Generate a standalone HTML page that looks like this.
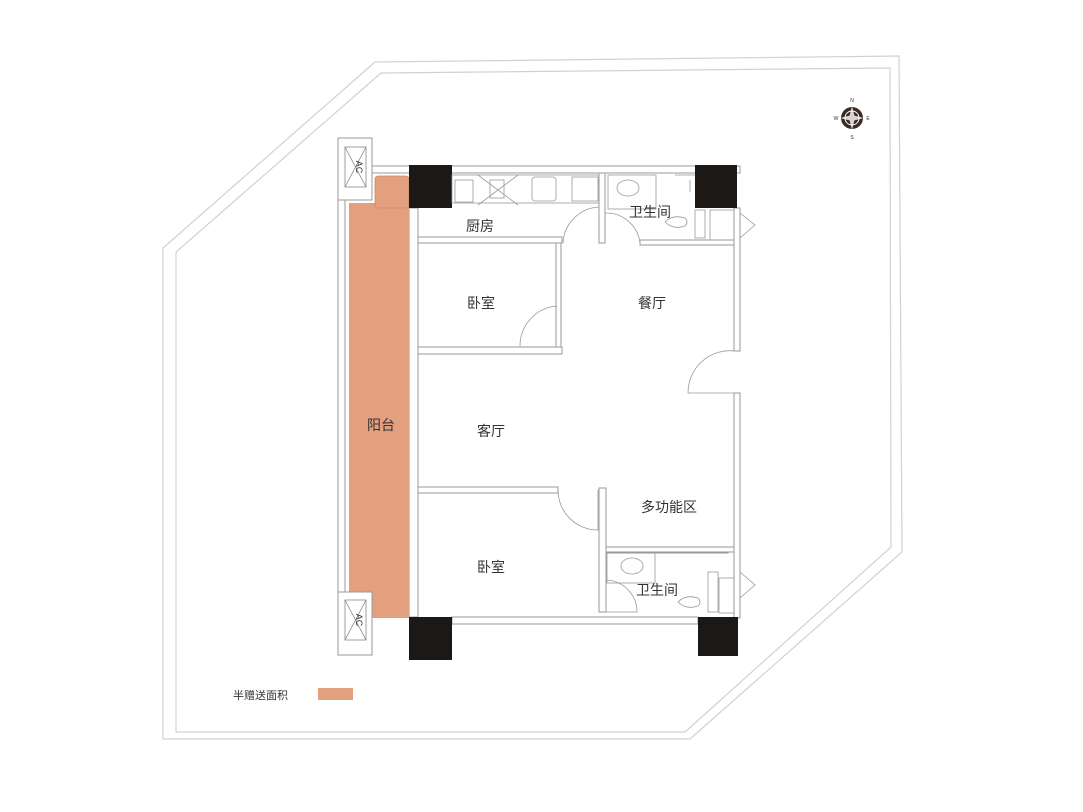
<!DOCTYPE html>
<html><head><meta charset="utf-8"><style>
html,body{margin:0;padding:0;background:#fff;}
svg{display:block;}
text{font-family:"Liberation Sans","Noto Sans CJK SC",sans-serif;fill:#333;}
</style></head><body>
<svg width="1083" height="812" viewBox="0 0 1083 812" xmlns="http://www.w3.org/2000/svg">
<rect width="1083" height="812" fill="#fff"/>
<polygon points="375,62 899,56 902,552 690,739 163,739 163,248" fill="none" stroke="#d8d0c8" stroke-width="1.2"/>
<polygon points="381,73 890,68 891,547 685,732 176,732 176,252" fill="none" stroke="#d8d0c8" stroke-width="1.2"/>

<g fill="#fff" stroke="#9a9a9a" stroke-width="1">
<rect x="372" y="166" width="368" height="7"/>
<rect x="338" y="200" width="7" height="392"/>
<rect x="409" y="208" width="9" height="409"/>
<rect x="734" y="208" width="6" height="143"/>
<rect x="734" y="393" width="6" height="225"/>
<rect x="452" y="617" width="246" height="7"/>
<rect x="418" y="237" width="144" height="6"/>
<rect x="599" y="173" width="6" height="70"/>
<rect x="640" y="240" width="94" height="5"/>
<rect x="556" y="243" width="5" height="105"/>
<rect x="418" y="347" width="144" height="7"/>
<rect x="418" y="487" width="140" height="6"/>
<rect x="599" y="488" width="7" height="124"/>
<rect x="606" y="547" width="128" height="5"/>
<rect x="606" y="552" width="122" height="1"/>
</g>

<rect x="349" y="203" width="60" height="415" fill="#e3a07f"/>
<rect x="375" y="176" width="34" height="32" rx="3" fill="#e3a07f" stroke="#c98a6a" stroke-width="0.8"/>

<g fill="#fff" stroke="#9a9a9a" stroke-width="1">
<rect x="338" y="138" width="34" height="62"/>
<rect x="338" y="592" width="34" height="63"/>
</g>
<g fill="none" stroke="#888" stroke-width="0.8">
<rect x="345" y="147" width="21" height="40"/>
<path d="M345,147 L366,187 M366,147 L345,187"/>
<rect x="345" y="600" width="21" height="40"/>
<path d="M345,600 L366,640 M366,600 L345,640"/>
</g>
<text x="356" y="167" font-size="9" text-anchor="middle" transform="rotate(90 356 167)">AC</text>
<text x="356" y="620" font-size="9" text-anchor="middle" transform="rotate(90 356 620)">AC</text>

<g fill="#1c1816">
<rect x="409" y="165" width="43" height="43"/>
<rect x="695" y="165" width="42" height="43"/>
<rect x="409" y="617" width="43" height="43"/>
<rect x="698" y="617" width="40" height="39"/>
</g>

<g fill="none" stroke="#999" stroke-width="0.8">
<rect x="452" y="175" width="147" height="28"/>
<rect x="455" y="180" width="18" height="22"/>
<path d="M478,175 L518,205 M518,175 L478,205"/>
<rect x="490" y="180" width="14" height="18"/>
<rect x="532" y="177" width="24" height="24" rx="3"/>
<rect x="572" y="177" width="26" height="24"/>
<rect x="608" y="175" width="48" height="34"/>
<ellipse cx="628" cy="188" rx="11" ry="8"/>
<path d="M675,175 L695,175 M690,180 L690,192"/>
<path d="M665,222 q8,-8 20,-4 q4,4 0,8 q-12,4 -20,-4 z"/>
<rect x="695" y="210" width="10" height="28"/>
<rect x="710" y="210" width="24" height="30"/>
<path d="M563,243 A38,38 0 0 1 599,207"/>
<path d="M605,213 A34,34 0 0 1 640,243"/>
<path d="M520,346 A40,40 0 0 1 557,306"/>
<path d="M735,351 A42,42 0 0 0 688,393 L734,393"/>
<path d="M558,490 A40,40 0 0 0 598,530 L598,490"/>
<path d="M606,580 A32,32 0 0 1 637,612 L606,612"/>
<path d="M740,213 L755,225 L740,238"/>
<path d="M740,572 L755,585 L740,598"/>
<rect x="607" y="553" width="48" height="30"/>
<ellipse cx="632" cy="566" rx="11" ry="8"/>
<path d="M678,602 q8,-8 20,-4 q4,4 0,8 q-12,4 -20,-4 z"/>
<rect x="708" y="572" width="10" height="40"/>
<rect x="719" y="578" width="15" height="35"/>
<path d="M418,260 L418,340 M418,370 L418,480 M418,505 L418,600"/>
</g>

<g font-size="14">
<text x="480" y="231" text-anchor="middle">厨房</text>
<text x="650" y="217" text-anchor="middle">卫生间</text>
<text x="481" y="308" text-anchor="middle">卧室</text>
<text x="652" y="308" text-anchor="middle">餐厅</text>
<text x="381" y="430" text-anchor="middle">阳台</text>
<text x="491" y="436" text-anchor="middle">客厅</text>
<text x="669" y="512" text-anchor="middle">多功能区</text>
<text x="491" y="572" text-anchor="middle">卧室</text>
<text x="657" y="595" text-anchor="middle">卫生间</text>
</g>

<text x="233" y="699" font-size="11">半赠送面积</text>
<rect x="318" y="688" width="35" height="12" fill="#e3a07f"/>

<circle cx="852" cy="118" r="11" fill="#3a2a22"/>
<circle cx="852" cy="118" r="7" fill="none" stroke="#fff" stroke-width="1"/>
<path d="M852,106 L855,118 L852,130 L849,118 Z M840,118 L852,115 L864,118 L852,121 Z" fill="#fff" opacity="0.8"/>
<text x="852" y="102" font-size="5" text-anchor="middle">N</text>
<text x="852" y="139" font-size="5" text-anchor="middle">S</text>
<text x="836" y="120" font-size="5" text-anchor="middle">W</text>
<text x="868" y="120" font-size="5" text-anchor="middle">E</text>
</svg>
</body></html>
